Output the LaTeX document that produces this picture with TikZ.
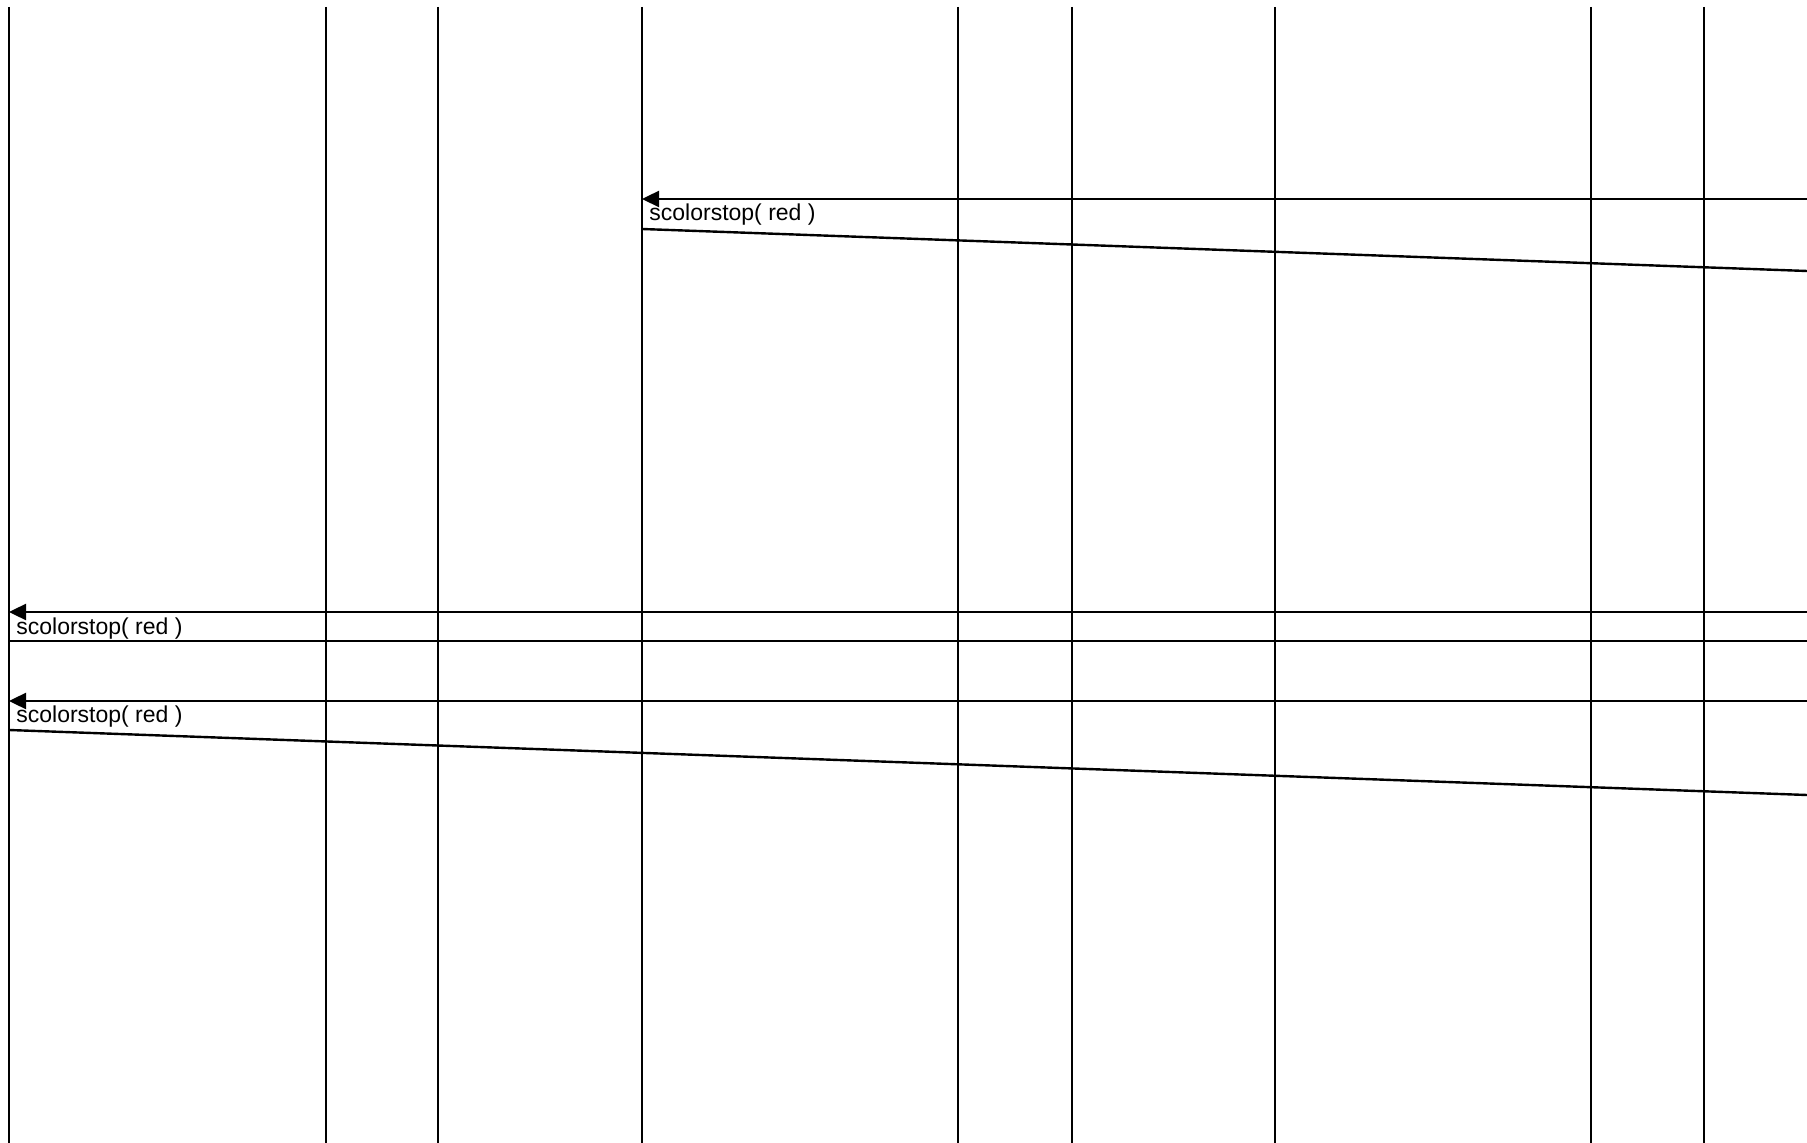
\documentclass[tikz,border=0pt]{standalone}
\usepackage{fontspec}
\setmainfont{Liberation Sans}
\usepackage{tikz}
\usetikzlibrary{arrows.meta}

\tikzset{
  lifeline/.style={line width=1.2pt, black},
  msg/.style={line width=1.2pt, black, -{Triangle[length=8.5pt, width=8pt]}},
  reply/.style={line width=1.2pt, black},
  msglabel/.style={anchor=base west, inner sep=0pt, font=\fontsize{11.5pt}{13pt}\selectfont}
}

\begin{document}
\begin{tikzpicture}[x=0.5pt, y=-0.5pt]
  \useasboundingbox (0,0) rectangle (1807,1143);

  % ── lifelines ──
  \foreach \lx [count=\i] in {9,326,438,642,958,1072,1275,1591,1704} {
    \coordinate (top\i) at (\lx,7);
    \coordinate (bot\i) at (\lx,1143);
    \draw[lifeline] (top\i) -- (bot\i);
  }

  % ── first call, into lifeline 4 ──
  \coordinate (in1)  at (1807,199);
  \coordinate (hit1) at (642,199);
  \draw[msg] (in1) -- (hit1);
  \node[msglabel] (lab1) at (649,221) {scolorstop( red )};
  \coordinate (out1) at (642,229);
  \coordinate (end1) at (1807,271);
  \draw[reply] (out1) -- (end1);

  % ── second call, into lifeline 1 ──
  \coordinate (in2)  at (1807,612);
  \coordinate (hit2) at (9,612);
  \draw[msg] (in2) -- (hit2);
  \node[msglabel] (lab2) at (16,634) {scolorstop( red )};
  \coordinate (out2) at (9,641);
  \coordinate (end2) at (1807,641);
  \draw[reply] (out2) -- (end2);

  % ── third call, into lifeline 1 ──
  \coordinate (in3)  at (1807,701);
  \coordinate (hit3) at (9,701);
  \draw[msg] (in3) -- (hit3);
  \node[msglabel] (lab3) at (16,722) {scolorstop( red )};
  \coordinate (out3) at (9,730);
  \coordinate (end3) at (1807,795);
  \draw[reply] (out3) -- (end3);
\end{tikzpicture}
\end{document}
